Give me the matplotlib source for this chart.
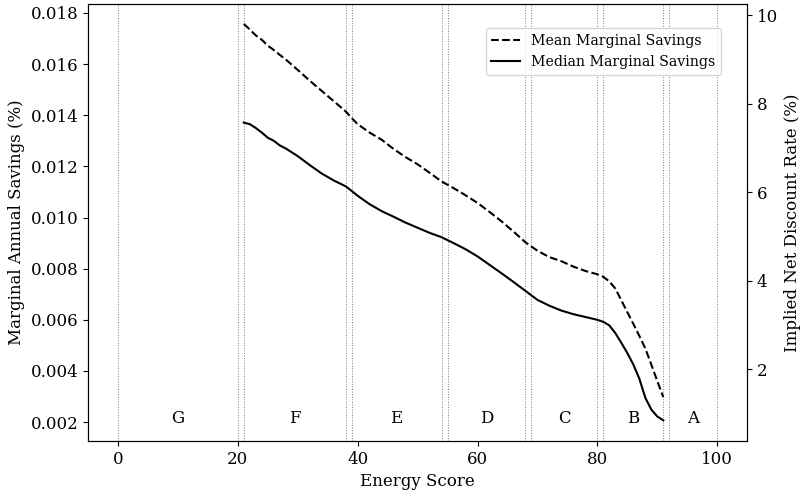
import matplotlib
matplotlib.use("Agg")
import matplotlib.pyplot as plt

plt.rcParams['font.family'] = 'DejaVu Serif'
plt.rcParams['font.size'] = 12

# energy score grid and marginal savings curves
score = [21, 22, 23, 24, 25, 26, 27, 28, 30, 32, 34, 36, 38, 39, 40, 42, 44, 46,
         48, 50, 52, 54, 56, 58, 60, 62, 64, 66, 68, 70, 72, 74, 76, 78, 80,
         81, 82, 83, 84, 85, 86, 87, 88, 89, 90, 91]
mean_savings = [0.01757, 0.01735, 0.01712, 0.01695, 0.01672, 0.01655, 0.01636,
                0.01618, 0.01577, 0.01535, 0.01495, 0.01455, 0.01415, 0.01389,
                0.01365, 0.01332, 0.01304, 0.01268, 0.01236, 0.01208, 0.01175,
                0.01141, 0.01115, 0.01087, 0.01057, 0.01022, 0.00985, 0.00945,
                0.00903, 0.00870, 0.00845, 0.00829, 0.00808, 0.00791, 0.00778,
                0.00768, 0.00750, 0.00722, 0.00676, 0.00630, 0.00584, 0.00537,
                0.00488, 0.00425, 0.00360, 0.00298]
median_savings = [0.01371, 0.01365, 0.01350, 0.01332, 0.01312, 0.01300, 0.01282,
                  0.01270, 0.01240, 0.01205, 0.01172, 0.01145, 0.01122, 0.01104,
                  0.01085, 0.01052, 0.01025, 0.01003, 0.00980, 0.00960, 0.00940,
                  0.00923, 0.00900, 0.00876, 0.00848, 0.00815, 0.00782, 0.00748,
                  0.00713, 0.00678, 0.00655, 0.00636, 0.00622, 0.00611, 0.00600,
                  0.00592, 0.00578, 0.00548, 0.00510, 0.00470, 0.00425, 0.00370,
                  0.00295, 0.00249, 0.00222, 0.00207]

# rating band boundaries and labels
band_edges = [0, 20, 21, 38, 39, 54, 55, 68, 69, 80, 81, 91, 92, 100]
band_labels = ['G', 'F', 'E', 'D', 'C', 'B', 'A']
band_centers = [10, 29.5, 46.5, 61.5, 74.5, 86, 96]

fig = plt.figure(figsize=(8, 4.95), dpi=100)
ax = fig.add_axes([0.11, 0.109, 0.824, 0.883])

for e in band_edges:
    ax.axvline(e, color='grey', linestyle=':', linewidth=0.7)

ax.plot(score, mean_savings, 'k--', linewidth=1.5, label='Mean Marginal Savings')
ax.plot(score, median_savings, 'k-', linewidth=1.5, label='Median Marginal Savings')

for lab, cx in zip(band_labels, band_centers):
    ax.text(cx, 0.00215, lab, ha='center', va='center')

ax.set_xlim(-5, 105)
ax.set_ylim(0.00126, 0.01835)
ax.set_yticks([0.002, 0.004, 0.006, 0.008, 0.010, 0.012, 0.014, 0.016, 0.018])
ax.set_xlabel('Energy Score')
ax.set_ylabel('Marginal Annual Savings (%)')
ax.legend(loc='upper right', bbox_to_anchor=(0.971, 0.961), fontsize=10.2)

ax2 = ax.twinx()
ax2.set_ylim(0.373, 10.25)
ax2.set_yticks([2, 4, 6, 8, 10])
ax2.set_ylabel('Implied Net Discount Rate (%)')

fig.savefig('out.png', dpi=100)
